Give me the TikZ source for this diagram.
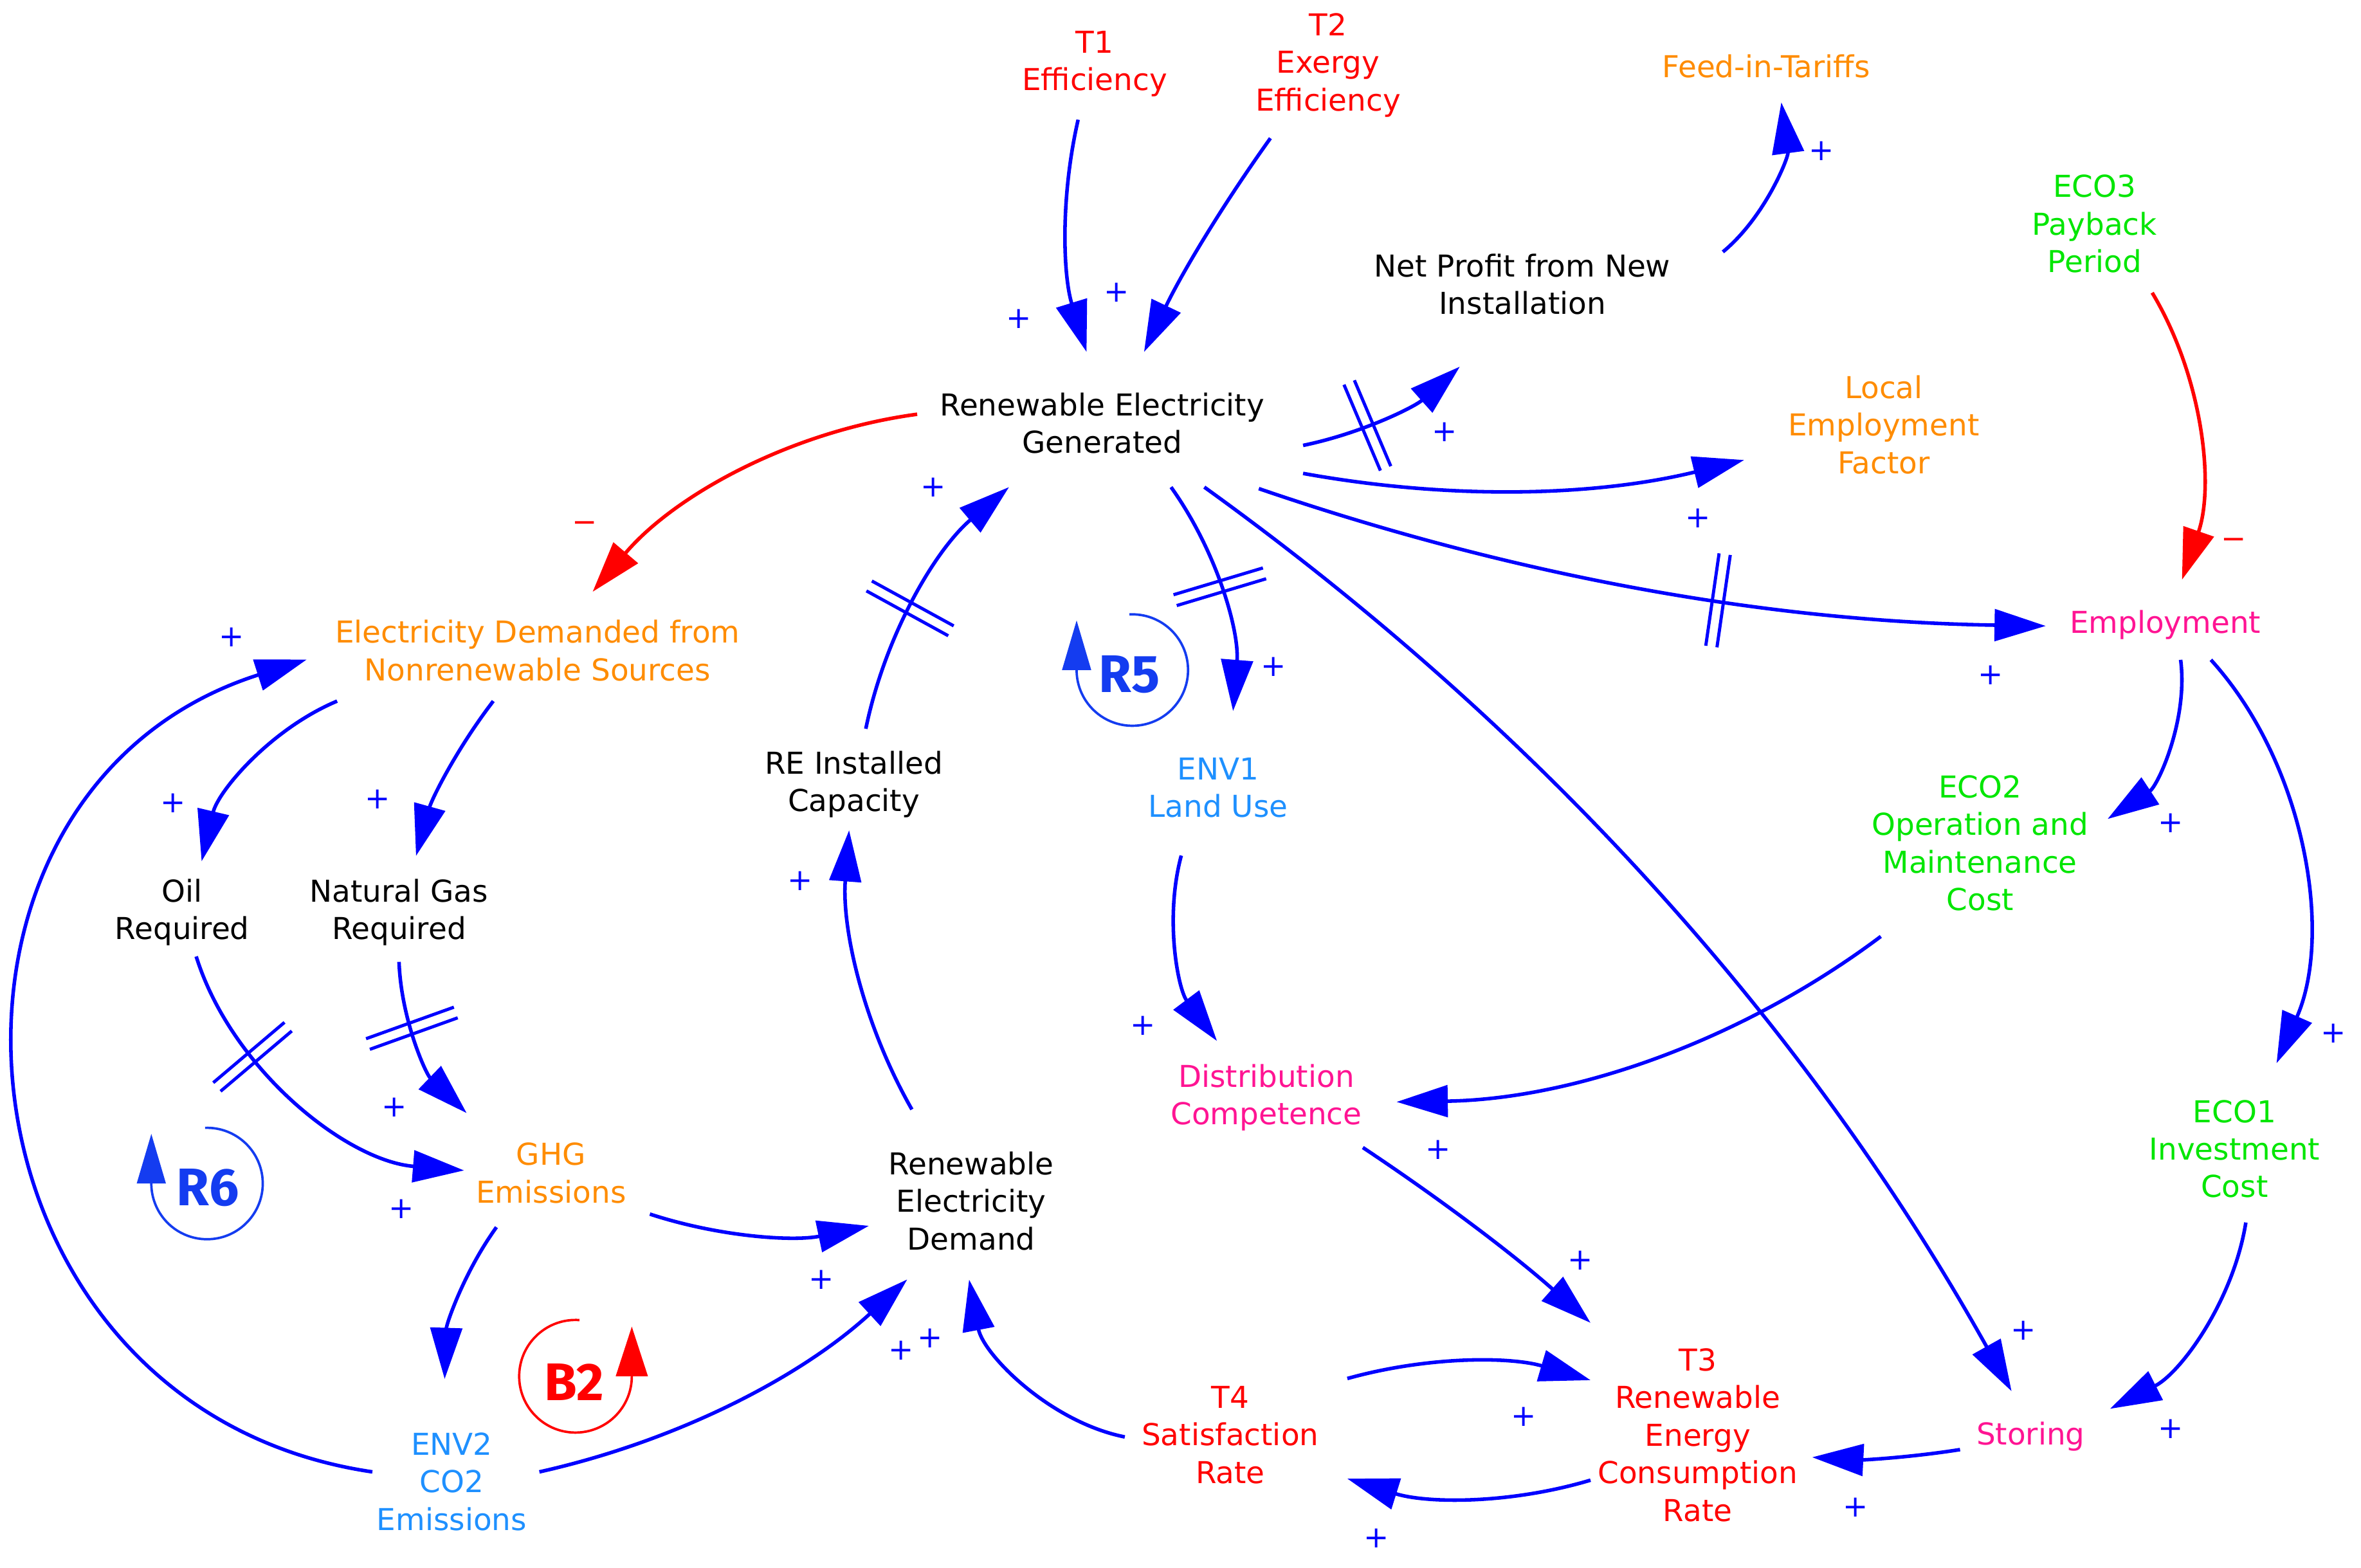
\documentclass[tikz,border=0pt]{standalone}
\usepackage{fontspec}
\setmainfont{DejaVu Sans}
\newfontfamily\loopfont{Fira Sans}
\usetikzlibrary{arrows.meta,decorations.markings}
\definecolor{cblue}{RGB}{0,0,255}
\definecolor{cred}{RGB}{255,0,0}
\definecolor{corange}{RGB}{255,140,0}
\definecolor{cgreen}{RGB}{0,230,0}
\definecolor{cpink}{RGB}{255,20,147}
\definecolor{clblue}{RGB}{30,144,255}
\definecolor{cloop}{RGB}{20,60,240}
\begin{document}
\begin{tikzpicture}[x=0.02cm,y=0.02cm,
  lbl/.style={align=center, inner sep=0pt, font=\fontsize{11.4}{14.2}\selectfont},
  arr/.style={draw=cblue, line width=1.35pt, -{Triangle[length=0.68cm,width=0.42cm]}, looseness=0.88},
  rarr/.style={arr, draw=cred},
  sgn/.style={inner sep=0pt, text=cblue, font=\fontsize{11.4}{14.2}\selectfont},
  rsgn/.style={sgn, text=cred},
  delay/.style={postaction={decorate}, decoration={markings, mark=at position #1 with {\draw[arrows=-, draw=cblue, line width=1.2pt] (-0.075cm,-0.62cm) -- (-0.075cm,0.62cm) (0.075cm,-0.62cm) -- (0.075cm,0.62cm);}}},
  loopc/.style={line width=0.9pt},
  looptxt/.style={inner sep=0pt, font=\loopfont\bfseries\fontsize{20}{24}\selectfont},
]
\fill[white] (0,0) rectangle (1568,-1041);
\useasboundingbox (0,0) rectangle (1568,-1041);

% ---- variables ----
\node[lbl, text=cred] (T1) at (727,-42.5) {T1\\Efficiency};
\node[lbl, text=cred] (T2) at (882,-43.3) {T2\\Exergy\\Efficiency};
\node[lbl, text=corange] (FIT) at (1173,-44) {Feed-in-Tariffs};
\node[lbl, text=cgreen] (ECO3) at (1391,-148.7) {ECO3\\Payback\\Period};
\node[lbl] (NP) at (1011,-188.7) {Net Profit from New\\Installation};
\node[lbl] (REG) at (732,-281) {Renewable Electricity\\Generated};
\node[lbl, text=corange] (LEF) at (1251,-282) {Local\\Employment\\Factor};
\node[lbl, text=cpink] (EMP) at (1438,-415) {Employment};
\node[lbl, text=corange] (EDNS) at (357,-432) {Electricity Demanded from\\Nonrenewable Sources};
\node[lbl] (REIC) at (567,-521) {RE Installed\\Capacity};
\node[lbl, text=clblue] (ENV1) at (809,-523) {ENV1\\Land Use};
\node[lbl, text=cgreen] (ECO2) at (1315,-560) {ECO2\\Operation and\\Maintenance\\Cost};
\node[lbl] (OIL) at (121,-606) {Oil\\Required};
\node[lbl] (NG) at (265,-606) {Natural Gas\\Required};
\node[lbl, text=cpink] (DC) at (841,-729) {Distribution\\Competence};
\node[lbl, text=cgreen] (ECO1) at (1484,-763) {ECO1\\Investment\\Cost};
\node[lbl, text=corange] (GHG) at (366,-779) {GHG\\Emissions};
\node[lbl] (RED) at (645,-797.5) {Renewable\\Electricity\\Demand};
\node[lbl, text=cred] (T3) at (1127.5,-953) {T3\\Renewable\\Energy\\Consumption\\Rate};
\node[lbl, text=cred] (T4) at (817,-953) {T4\\Satisfaction\\Rate};
\node[lbl, text=cpink] (STO) at (1348.6,-954) {Storing};
\node[lbl, text=clblue] (ENV2) at (300,-984) {ENV2\\CO2\\Emissions};

% ---- loop markers ----
\node[looptxt, text=cloop] (R5) at (750,-448) {R5};
\draw[loopc, draw=cloop, -{Triangle[length=0.66cm,width=0.38cm]}] ([shift={(2,3)}]R5.center) ++(93:37) arc[start angle=93, end angle=-180, radius=37] -- ++(0,33);
\node[looptxt, text=cloop] (R6) at (138.1,-788.7) {R6};
\draw[loopc, draw=cloop, -{Triangle[length=0.66cm,width=0.38cm]}] ([shift={(-0.6,2.7)}]R6.center) ++(92:37) arc[start angle=92, end angle=-180, radius=37] -- ++(0,33);
\node[looptxt, text=cred] (B2) at (381.4,-917.9) {B2};
\draw[loopc, draw=cred, -{Triangle[length=0.66cm,width=0.42cm]}] ([shift={(0.8,3.9)}]B2.center) ++(86:37.4) arc[start angle=86, end angle=360, radius=37.4] -- ++(0,33);

% ---- connectors ----
\draw[arr] ([shift={(-11,-37)}]T1.center) to[bend right=15] ([shift={(-10.4,47.3)}]REG.center);
\draw[arr] ([shift={(-38.3,-48.5)}]T2.center) to[bend right=5] ([shift={(27.8,47.3)}]REG.center);
\draw[arr, delay=0.38] ([shift={(133.4,-14.8)}]REG.center) to[bend right=15] ([shift={(-41.5,-54.8)}]NP.center);
\draw[arr] ([shift={(133.4,-33.4)}]REG.center) to[bend right=12] ([shift={(-92.7,-23.5)}]LEF.center);
\draw[arr, delay=0.59] ([shift={(104,-43.5)}]REG.center) to[bend right=9] ([shift={(-79.4,-0.7)}]EMP.center);
\draw[rarr] ([shift={(38.3,-45.7)}]ECO3.center) to[bend left=25] ([shift={(11.1,30)}]EMP.center);
\draw[arr] ([shift={(133.2,21.4)}]NP.center) to[bend right=29] ([shift={(10,-24)}]FIT.center);
\draw[rarr] ([shift={(-122.9,5.9)}]REG.center) to[bend right=21] ([shift={(36.6,39)}]EDNS.center);
\draw[arr, delay=0.45] ([shift={(8,37)}]REIC.center) to[bend left=19] ([shift={(-61.9,-42.5)}]REG.center);
\draw[arr, delay=0.47] ([shift={(45.7,-42.5)}]REG.center) to[bend left=20] ([shift={(9.9,50.8)}]ENV1.center);
\draw[arr] ([shift={(67.8,-42.5)}]REG.center) to[bend left=12.5] ([shift={(-12.7,30.1)}]STO.center);
\draw[arr] ([shift={(-133.1,-33.6)}]EDNS.center) to[bend right=27] ([shift={(12.9,34)}]OIL.center);
\draw[arr] ([shift={(-29.4,-33.6)}]EDNS.center) to[bend right=11] ([shift={(11.3,37.6)}]NG.center);
\draw[arr, delay=0.32] ([shift={(9.3,-29.2)}]OIL.center) to[bend right=34] ([shift={(-57.8,1.7)}]GHG.center);
\draw[arr, delay=0.4] ([shift={(0,-32.8)}]NG.center) to[bend right=22] ([shift={(-56.1,39.8)}]GHG.center);
\draw[arr] ([shift={(-52.7,6.5)}]ENV2.center) to[bend left=77, looseness=1.38] ([shift={(-153.3,-6)}]EDNS.center);
\draw[arr] ([shift={(58.2,6.5)}]ENV2.center) to[bend right=15] ([shift={(-42.5,-52.2)}]RED.center);
\draw[arr] ([shift={(65.6,-27.3)}]GHG.center) to[bend right=15] ([shift={(-68,-16.6)}]RED.center);
\draw[arr] ([shift={(-36.3,-36)}]GHG.center) to[bend right=17] ([shift={(-4.7,68.2)}]ENV2.center);
\draw[arr] ([shift={(-39.4,60.7)}]RED.center) to[bend left=17] ([shift={(-3.1,-30.4)}]REIC.center);
\draw[arr] ([shift={(-24.5,-45.2)}]ENV1.center) to[bend right=26] ([shift={(-32.8,37.7)}]DC.center);
\draw[arr] ([shift={(-65.9,-61.9)}]ECO2.center) to[bend left=18] ([shift={(86.5,-2.8)}]DC.center);
\draw[arr] ([shift={(64.1,-33.1)}]DC.center) to[bend left=4] ([shift={(-71.2,74.5)}]T3.center);
\draw[arr] ([shift={(10.2,-23.2)}]EMP.center) to[bend left=32] ([shift={(84.7,16.1)}]ECO2.center);
\draw[arr] ([shift={(30.3,-23.2)}]EMP.center) to[bend left=33] ([shift={(27.9,56.9)}]ECO1.center);
\draw[arr] ([shift={(7.5,-48.9)}]ECO1.center) to[bend left=27] ([shift={(52.7,18.4)}]STO.center);
\draw[arr] ([shift={(-46.9,-8.7)}]STO.center) to[bend left=6] ([shift={(76,-14.8)}]T3.center);
\draw[arr] ([shift={(-71.2,-30)}]T3.center) to[bend left=17] ([shift={(77.8,-29)}]T4.center);
\draw[arr] ([shift={(77.8,37.5)}]T4.center) to[bend left=16] ([shift={(-71.2,36.4)}]T3.center);
\draw[arr] ([shift={(-70,-1.3)}]T4.center) to[bend left=34] ([shift={(-1.4,-52.3)}]RED.center);

% ---- polarity signs ----
\node[sgn] (p1) at (676.6,-211.8) {+};
\node[sgn] (p2) at (741.5,-194.4) {+};
\node[sgn] (p3) at (620,-323.5) {+};
\node[sgn] (p4) at (959.2,-287) {+};
\node[sgn] (p5) at (1209.8,-100.3) {+};
\node[sgn] (p6) at (1127.8,-344.1) {+};
\node[sgn] (p7) at (1322.2,-448.4) {+};
\node[sgn] (p8) at (845.6,-442.8) {+};
\node[sgn] (p9) at (154,-423) {+};
\node[sgn] (p10) at (115.1,-533.3) {+};
\node[sgn] (p11) at (250.8,-530.9) {+};
\node[sgn] (p12) at (531.2,-585.1) {+};
\node[sgn] (p13) at (759.2,-681.2) {+};
\node[sgn] (p14) at (1441.8,-546.7) {+};
\node[sgn] (p15) at (1549.6,-686.5) {+};
\node[sgn] (p16) at (955.3,-763.8) {+};
\node[sgn] (p17) at (262.1,-735.6) {+};
\node[sgn] (p18) at (266.4,-803.1) {+};
\node[sgn] (p19) at (545.5,-849.8) {+};
\node[sgn] (p20) at (598.6,-897) {+};
\node[sgn] (p21) at (617.8,-888.6) {+};
\node[sgn] (p22) at (1049.3,-837) {+};
\node[sgn] (p23) at (1343.8,-883.6) {+};
\node[sgn] (p24) at (1441.8,-949) {+};
\node[sgn] (p25) at (1012.1,-940.8) {+};
\node[sgn] (p26) at (1232.2,-1001) {+};
\node[sgn] (p27) at (914,-1021.8) {+};
\node[rsgn] (m1) at (1483.5,-361) {−};
\node[rsgn] (m2) at (388.5,-350) {−};
\end{tikzpicture}
\end{document}
